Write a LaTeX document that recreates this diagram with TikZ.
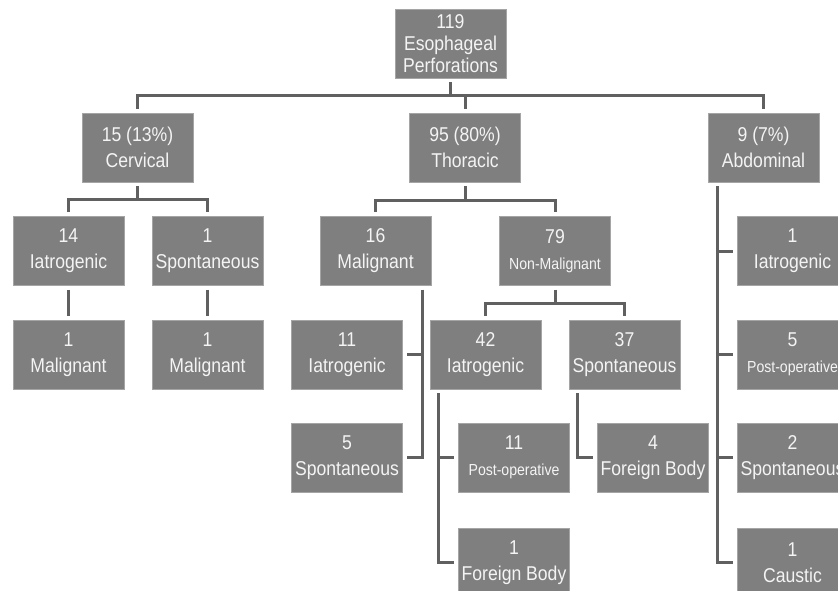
\documentclass[tikz,border=0pt]{standalone}
\usepackage{fontspec}
\setmainfont{Liberation Sans}[FakeStretch=0.88]
\definecolor{boxgray}{RGB}{127,127,127}
\definecolor{boxedge}{RGB}{165,165,165}
\definecolor{linegray}{RGB}{96,96,96}
\definecolor{boxtext}{RGB}{244,244,244}
\newcommand{\smalltext}[1]{{\fontsize{16}{26}\selectfont #1}}
\tikzset{
  box/.style={rectangle, fill=boxgray, draw=boxedge, line width=0.6pt, text=boxtext,
    minimum width=111pt, minimum height=69pt, inner sep=0pt, align=center,
    font=\fontsize{20}{26}\selectfont},
  fork/.style={draw=linegray, line width=3pt, shorten <=4pt, shorten >=4pt},
}
\begin{document}
\begin{tikzpicture}[x=1pt, y=-1pt]
    \useasboundingbox (0,0) rectangle (838,590);
    \fill[white] (0,0) rectangle (838,590);
    \clip (0,0) rectangle (838,590);
    % top and the three regions
    \node[box, font=\fontsize{20}{22}\selectfont] (top) at (450.5,43.5) {119\\Esophageal\\Perforations};
    \node[box] (cerv) at (137.5,147.5) {15 (13\%)\\Cervical};
    \node[box] (thor) at (465,147.5) {95 (80\%)\\Thoracic};
    \node[box] (abd) at (763.5,147.5) {9 (7\%)\\Abdominal};
    % cervical
    \node[box] (ci14) at (68.5,251) {14\\Iatrogenic};
    \node[box] (cs1) at (207.5,251) {1\\Spontaneous};
    \node[box] (cm1a) at (68.5,354.5) {1\\Malignant};
    \node[box] (cm1b) at (207.5,354.5) {1\\Malignant};
    % thoracic
    \node[box] (tm16) at (375.5,251) {16\\Malignant};
    \node[box] (tn79) at (555,251) {79\\\smalltext{Non-Malignant}};
    \node[box] (tmi11) at (347,354.5) {11\\Iatrogenic};
    \node[box] (tms5) at (347,457.5) {5\\Spontaneous};
    \node[box] (tni42) at (485.5,354.5) {42\\Iatrogenic};
    \node[box] (tns37) at (624.5,354.5) {37\\Spontaneous};
    \node[box] (tnp11) at (514,457.5) {11\\\smalltext{Post-operative}};
    \node[box] (tnf1) at (514,562.5) {1\\Foreign Body};
    \node[box] (tnf4) at (653,457.5) {4\\Foreign Body};
    % abdominal
    \node[box] (ai1) at (792.5,251) {1\\Iatrogenic};
    \node[box] (apo5) at (792.5,354.5) {5\\\smalltext{Post-operative}};
    \node[box] (as2) at (792.5,457.5) {2\\Spontaneous};
    \node[box] (ac1) at (792.5,562.5) {1\\Caustic};

    % connectors
    \coordinate (topbar) at (450.5,95);
    \draw[fork, shorten >=0pt] (top.south) -- (topbar);
    \draw[fork] (cerv.north) |- (topbar) -| (abd.north);
    \draw[fork, shorten >=0pt] (thor.north) -- (thor.north |- topbar);

    \coordinate (cervbar) at (137.5,199);
    \draw[fork, shorten >=0pt] (cerv.south) -- (cervbar);
    \draw[fork] (ci14.north) |- (cervbar) -| (cs1.north);
    \draw[fork] (ci14) -- (cm1a);
    \draw[fork] (cs1) -- (cm1b);

    \coordinate (thorbar) at (465,200);
    \draw[fork, shorten >=0pt] (thor.south) -- (thorbar);
    \draw[fork] (tm16.north) |- (thorbar) -| (tn79.north);
    \draw[fork] ([xshift=-9pt]tm16.south east) |- (tmi11.east);
    \draw[fork] ([xshift=-9pt]tm16.south east) |- (tms5.east);

    \coordinate (nmbar) at (555,303);
    \draw[fork, shorten >=0pt] (tn79.south) -- (nmbar);
    \draw[fork] (tni42.north) |- (nmbar) -| (tns37.north);
    \draw[fork] ([xshift=9pt]tni42.south west) |- (tnp11.west);
    \draw[fork] ([xshift=9pt]tni42.south west) |- (tnf1.west);
    \draw[fork] ([xshift=9pt]tns37.south west) |- (tnf4.west);

    \foreach \n in {ai1,apo5,as2,ac1}
        \draw[fork] ([xshift=10pt]abd.south west) |- (\n.west);
\end{tikzpicture}
\end{document}
